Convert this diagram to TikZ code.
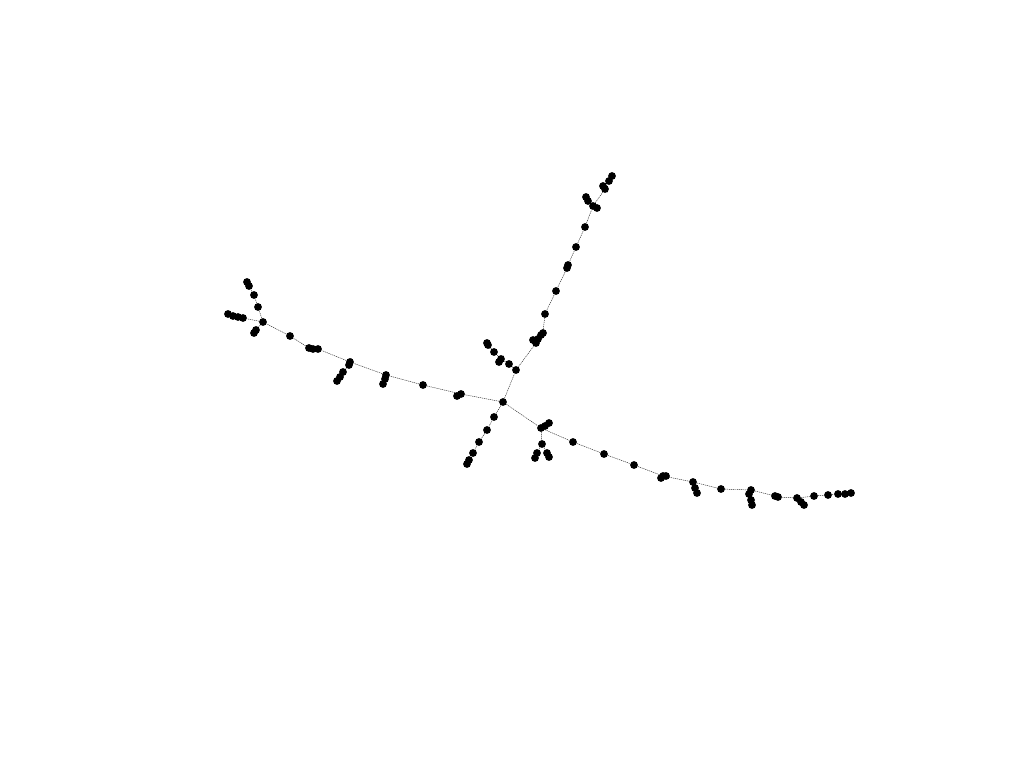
\documentclass[tikz,border=0pt]{standalone}
\usetikzlibrary{backgrounds}
\tikzset{
  dot/.style={circle,fill=black,inner sep=0pt,minimum size=7.8pt},
  link/.style={draw=black!85,line width=0.45pt,dash pattern=on 1.2pt off 0.8pt}
}
\begin{document}
\begin{tikzpicture}[x=1pt,y=-1pt]
\useasboundingbox (0,0) rectangle (1024,768);
\foreach \n/\x/\y in {
 h/503/402,
 a1/461/394, a1b/457/396, a2/423/385, a3/386/375, a3b/385/379, a3c/383/384,
 a4/350/362, a4b/349/365, a4c/343/372, a4d/340/377, a4e/337/381,
 a5/318/349, a5b/313/349, a5c/309/348, a6/290/336, a7/263/322,
 b1/258/307, b2/254/295, b3/249/286, b4/247/282,
 c1/243/318, c2/238/317, c3/233/316, c4/228/314,
 d1/256/330, d2/254/333,
 e1/516/370, e2/509/364, e3/501/359, e3b/499/362, e4/494/352, e5/488/345, e6/487/343,
 f1/536/343, f5/533/340, f2/538/339, f3/541/335, f4/543/333,
 g1/545/314, g2/556/291, g3/567/268, g3b/568/265, g4/576/247, g5/585/227,
 g6/593/206, g6b/597/208, g7/588/201, g8/586/197,
 h1/605/189, h1b/603/186, h2/609/181, h3/612/176,
 i1/494/417, i2/487/430, i3/479/442, i4/473/453, i5/469/460, i6/467/464,
 j1/541/428, j2/545/426, j3/549/423,
 k1/542/444, k2/537/453, k3/535/458, k4/547/453, k5/549/457,
 m1/573/442, m2/604/454, m3/634/465, m4/663/476, m4b/661/478, m4c/666/476,
 m5/693/482, m5b/695/488, m5c/697/493, m6/721/489,
 m7/751/490, m7b/749/494, m7c/751/500, m7d/752/505,
 m8/775/496, m8b/778/497, m9/797/498, m9b/801/502, m9c/804/505,
 m10/814/496, m11/828/495, m12/838/494, m13/845/494, m14/851/493}
 \node[dot] (\n) at (\x,\y) {};
\begin{pgfonlayer}{background}
\foreach \p/\q in {
 h/a1, a1/a1b, a1/a2, a2/a3, a3/a3b, a3b/a3c, a3/a4, a4/a4b, a4b/a4c, a4c/a4d, a4d/a4e,
 a4/a5, a5/a5b, a5b/a5c, a5c/a6, a6/a7,
 a7/b1, b1/b2, b2/b3, b3/b4, a7/c1, c1/c2, c2/c3, c3/c4, a7/d1, d1/d2,
 h/e1, e1/e2, e2/e3, e3/e3b, e3/e4, e4/e5, e5/e6,
 e1/f1, f1/f5, f1/f2, f2/f3, f3/f4, f4/g1, g1/g2, g2/g3, g3/g3b, g3b/g4, g4/g5, g5/g6,
 g6/g6b, g6/g7, g7/g8, g6/h1, h1/h1b, h1/h2, h2/h3,
 h/i1, i1/i2, i2/i3, i3/i4, i4/i5, i5/i6,
 h/j1, j1/j2, j2/j3, j1/k1, k1/k2, k2/k3, k1/k4, k4/k5,
 j1/m1, m1/m2, m2/m3, m3/m4, m4/m4b, m4/m4c, m4/m5, m5/m5b, m5b/m5c, m5/m6, m6/m7,
 m7/m7b, m7b/m7c, m7c/m7d, m7/m8, m8/m8b, m8b/m9, m9/m9b, m9b/m9c, m9/m10,
 m10/m11, m11/m12, m12/m13, m13/m14}
 \draw[link] (\p) -- (\q);
\end{pgfonlayer}
\end{tikzpicture}
\end{document}
